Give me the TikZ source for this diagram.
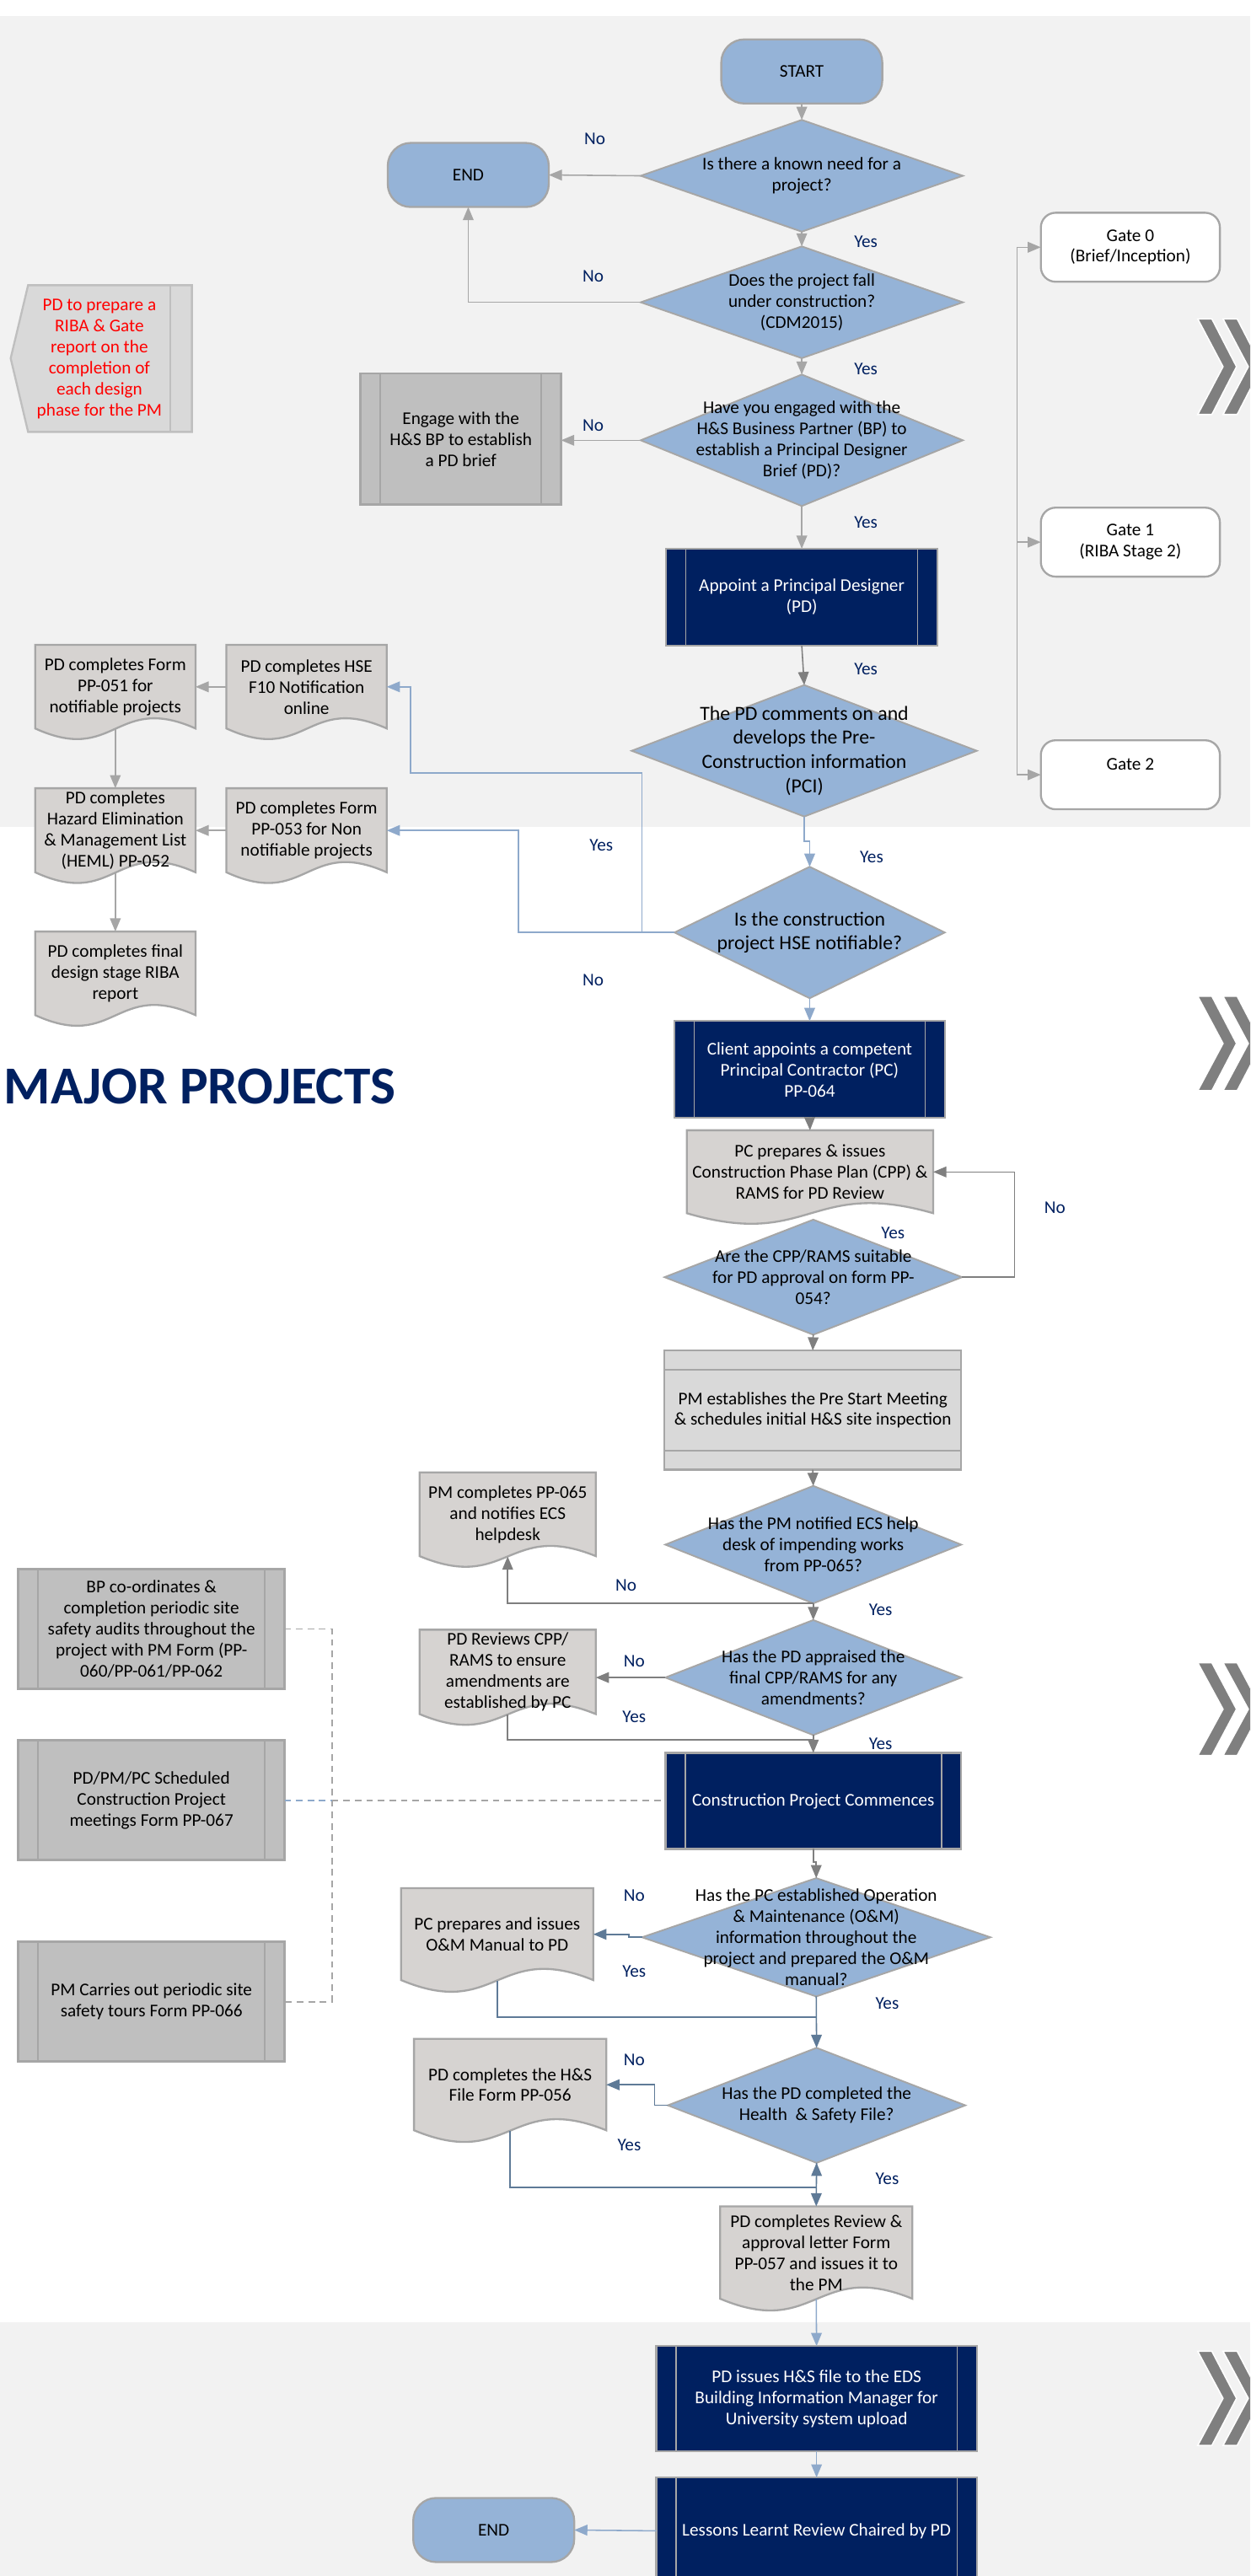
\documentclass[tikz,border=0pt]{standalone}
\usepackage{fontspec}
\setmainfont{Carlito}
\usetikzlibrary{arrows.meta,shapes.geometric}

\definecolor{bgg}{HTML}{F2F2F2}
\definecolor{dia}{HTML}{95B3D7}
\definecolor{bord}{HTML}{A6A6A6}
\definecolor{navy}{HTML}{002060}
\definecolor{docf}{HTML}{D6D3D1}
\definecolor{grayb}{HTML}{BFBFBF}
\definecolor{lgray}{HTML}{D9D9D9}
\definecolor{cgray}{HTML}{A6A6A6}
\definecolor{cdark}{HTML}{7F7F7F}
\definecolor{cblue}{HTML}{8EA9CB}
\definecolor{csteel}{HTML}{5E7A97}
\definecolor{chevc}{HTML}{7F7F7F}

\newcommand\bodyfont{\fontsize{10.9}{12.8}\selectfont}
\newcommand\bigfont{\fontsize{12.2}{14.7}\selectfont}

\tikzset{
  every node/.style={inner sep=0pt, outer sep=0pt},
  term/.style={draw=bord, line width=1.2pt, fill=dia, rounded corners=14pt,
    minimum width=98pt, minimum height=39pt, font=\bodyfont, text=black},
  decision/.style={shape=diamond, draw=bord, line width=1pt, fill=dia},
  dtext/.style={align=center, font=\bodyfont},
  navybox/.style={draw=bord, line width=1.2pt, fill=navy, text=white, align=center, font=\bodyfont,
    path picture={
      \draw[bord, line width=0.8pt] ([xshift=12pt]path picture bounding box.north west) -- ([xshift=12pt]path picture bounding box.south west);
      \draw[bord, line width=0.8pt] ([xshift=-12pt]path picture bounding box.north east) -- ([xshift=-12pt]path picture bounding box.south east);}},
  graybox/.style={draw=bord, line width=1.5pt, fill=grayb, text=black, align=center, font=\bodyfont,
    path picture={
      \draw[bord, line width=1pt] ([xshift=12pt]path picture bounding box.north west) -- ([xshift=12pt]path picture bounding box.south west);
      \draw[bord, line width=1pt] ([xshift=-12pt]path picture bounding box.north east) -- ([xshift=-12pt]path picture bounding box.south east);}},
  gatebox/.style={draw=bord, line width=1.2pt, fill=white, rounded corners=9pt,
    minimum width=109pt, minimum height=42pt, align=center, font=\bodyfont},
  docshape/.style={draw=bord, fill=docf, line width=1.2pt},
  doctext/.style={align=center, font=\bodyfont},
  lbl/.style={text=navy, font=\bodyfont},
  conn/.style={-{Triangle[length=8pt,width=6.5pt]}, line width=0.8pt},
  cg/.style={conn, draw=cgray},
  cd/.style={conn, draw=cdark},
  cb/.style={conn, draw=cblue},
  cs/.style={conn, draw=csteel},
  dsh/.style={draw=cgray, line width=0.9pt, dash pattern=on 4pt off 3pt},
}

\newcommand\docnode[6]{%
  \path[docshape] ({#2-#4/2},#3) -- ({#2+#4/2},#3) -- ({#2+#4/2},{#3+0.87*#5})
    .. controls (#2,{#3+0.5*#5}) and (#2,{#3+1.25*#5}) .. ({#2-#4/2},{#3+0.87*#5}) -- cycle;
  \node[doctext, minimum width=#4pt, minimum height=0.874*#5pt, anchor=north] (#1) at (#2,#3) {#6};
}
\newcommand\chevone[3]{%
  \path[fill=chevc, draw=white, line width=0.8pt] (#1,#2) -- ({#1+8.6},#2) -- ({#1+23.6},{(#2+#3)/2})
    -- ({#1+8.6},#3) -- (#1,#3) -- ({#1+15.4},{(#2+#3)/2}) -- cycle;
}
\newcommand\chevpair[2]{\chevone{729}{#1}{#2}\chevone{744.4}{#1}{#2}}

\begin{document}
\begin{tikzpicture}[x=1pt,y=-1pt]
\useasboundingbox (0,0) rectangle (761,1568);
\fill[white] (0,0) rectangle (761,1568);
\fill[bgg] (0,10) rectangle (761,503.5);
\fill[bgg] (0,1413.5) rectangle (761,1568);

% chevrons
\begin{scope}
\clip (0,0) rectangle (761,1568);
\chevpair{194.1}{252.3}
\chevpair{606.4}{663.9}
\chevpair{1012.1}{1068.6}
\chevpair{1431.2}{1488.5}
\end{scope}

% title
\node[anchor=base west, text=navy, font=\fontsize{32.5}{39}\selectfont\bfseries] (major) at (2.4,671.7) {MAJOR PROJECTS};

% red box
\path[draw=grayb, fill=lgray, line width=1.2pt] (17.1,173.6) -- (116.8,173.6) -- (116.8,262.9) -- (17.1,262.9) -- (6.5,218.1) -- cycle;
\draw[grayb, line width=1.2pt] (103.5,173.6) -- (103.5,262.9);
\node[font=\bodyfont, text=red, align=center] (riba) at (60.5,218.6) {PD to prepare a\\RIBA \& Gate\\report on the\\completion of\\each design\\phase for the PM};

% terminators
\node[term] (start) at (488,43.5) {START};
\node[term] (end1) at (285,106.5) {END};
\node[term] (end2) at (300.5,1540) {END};

% gates
\node[gatebox] (gate0) at (688,150.5) {Gate 0\\(Brief/Inception)};
\node[gatebox] (gate1) at (688,330) {Gate 1\\(RIBA Stage 2)};
\node[gatebox] (gate2) at (688,471.6) {Gate 2\\\mbox{}};

% documents
\docnode{hse}{186.6}{392.5}{97.6}{58.5}{PD completes HSE\\F10 Notification\\online}
\docnode{pp051}{70.2}{392.5}{97.6}{58.5}{PD completes Form\\PP-051 for\\notifiable projects}
\docnode{heml}{70.2}{479.8}{97.6}{58.8}{PD completes\\Hazard Elimination\\\& Management List\\(HEML) PP-052}
\docnode{pp053}{186.6}{479.8}{97.6}{58.8}{PD completes Form\\PP-053 for Non\\notifiable projects}
\docnode{final}{70.2}{567}{97.6}{58.5}{PD completes final\\design stage RIBA\\report}
\docnode{cpp}{493}{688}{150}{58}{PC prepares \& issues\\Construction Phase Plan (CPP) \&\\RAMS for PD Review}
\docnode{pm065}{309}{896.2}{107.3}{58.6}{PM completes PP-065\\and notifies ECS\\helpdesk}
\docnode{pr}{309}{992}{107.3}{59}{PD Reviews CPP/\\RAMS to ensure\\amendments are\\established by PC}
\docnode{om}{302.6}{1149.3}{117}{64.3}{PC prepares and issues\\O\&M Manual to PD}
\docnode{hs}{310.5}{1241}{117}{64}{PD completes the H\&S\\File Form PP-056}
\docnode{rev}{496.8}{1343}{117}{64.6}{PD completes Review \&\\approval letter Form\\PP-057 and issues it to\\the PM}

% diamonds
\node[decision, minimum width=196pt, minimum height=68pt] (d1) at (488,107) {};
\node[dtext] (d1t) at (d1) {Is there a known need for a\\project?};
\node[decision, minimum width=196pt, minimum height=68pt] (d2) at (488,184) {};
\node[dtext] (d2t) at (d2) {Does the project fall\\under construction?\\(CDM2015)};
\node[decision, minimum width=196pt, minimum height=80pt] (d3) at (488,268) {};
\node[dtext] (d3t) at (d3) {Have you engaged with the\\H\&S Business Partner (BP) to\\establish a Principal Designer\\Brief (PD)?};
\node[decision, minimum width=210pt, minimum height=80pt] (d4) at (489.5,457) {};
\node[dtext, font=\bigfont] (d4t) at (d4) {The PD comments on and\\develops the Pre-\\Construction information\\(PCI)};
\node[decision, minimum width=164.5pt, minimum height=80pt] (d5) at (492.8,567.6) {};
\node[dtext, font=\bigfont] (d5t) at (d5) {Is the construction\\project HSE notifiable?};
\node[decision, minimum width=181pt, minimum height=70pt] (d6) at (495,777.4) {};
\node[dtext] (d6t) at (d6) {Are the CPP/RAMS suitable\\for PD approval on form PP-\\054?};
\node[decision, minimum width=180pt, minimum height=71.5pt] (d7) at (495,940.2) {};
\node[dtext] (d7t) at (d7) {Has the PM notified ECS help\\desk of impending works\\from PP-065?};
\node[decision, minimum width=180pt, minimum height=70pt] (d8) at (495,1021.1) {};
\node[dtext] (d8t) at (d8) {Has the PD appraised the\\final CPP/RAMS for any\\amendments?};
\node[decision, minimum width=212pt, minimum height=72pt] (d9) at (496.8,1179.2) {};
\node[dtext] (d9t) at (d9) {Has the PC established Operation\\\& Maintenance (O\&M)\\information throughout the\\project and prepared the O\&M\\manual?};
\node[decision, minimum width=181pt, minimum height=70pt] (d10) at (497,1281.5) {};
\node[dtext] (d10t) at (d10) {Has the PD completed the\\Health\ \ \& Safety File?};

% process boxes
\node[navybox, minimum width=165pt, minimum height=59pt] (appoint) at (488,363.5) {Appoint a Principal Designer\\(PD)};
\node[navybox, minimum width=164.5pt, minimum height=59pt] (client) at (492.8,651) {Client appoints a competent\\Principal Contractor (PC)\\PP-064};
\node[navybox, minimum width=180pt, minimum height=58.4pt] (cpc) at (495,1096.2) {Construction Project Commences};
\node[navybox, minimum width=195pt, minimum height=64pt] (issue) at (497,1460) {PD issues H\&S file to the EDS\\Building Information Manager for\\University system upload};
\node[navybox, minimum width=195pt, minimum height=65pt] (lessons) at (497,1540.5) {Lessons Learnt Review Chaired by PD};

\node[graybox, minimum width=122pt, minimum height=80pt] (engage) at (280.5,267.3) {Engage with the\\H\&S BP to establish\\a PD brief};
\node[graybox, minimum width=162pt, minimum height=72.7pt] (bp) at (92.2,991.5) {BP co-ordinates \&\\completion periodic site\\safety audits throughout the\\project with PM Form (PP-\\060/PP-061/PP-062};
\node[graybox, minimum width=162pt, minimum height=72.7pt] (meet) at (92.2,1095.8) {PD/PM/PC Scheduled\\Construction Project\\meetings Form PP-067};
\node[graybox, minimum width=162pt, minimum height=72.7pt] (tours) at (92.2,1218.4) {PM Carries out periodic site\\safety tours Form PP-066};

\node[draw=bord, line width=1.2pt, fill=lgray, minimum width=180.6pt, minimum height=72.6pt, align=center, font=\bodyfont,
  path picture={
    \draw[bord, line width=1.2pt] ([yshift=-11.7pt]path picture bounding box.north west) -- ([yshift=-11.7pt]path picture bounding box.north east);
    \draw[bord, line width=1.2pt] ([yshift=11.7pt]path picture bounding box.south west) -- ([yshift=11.7pt]path picture bounding box.south east);}]
  (pmest) at (494.7,858.3) {PM establishes the Pre Start Meeting\\\& schedules initial H\&S site inspection};

% connectors: top section
\draw[cg] (start.south) -- (d1.north);
\draw[cg] (d1.west) -- (end1.east);
\draw[cg] (d1.south) -- (d2.north);
\draw[cg] (d2.west) -| (end1.south);
\draw[cg] (d2.south) -- (d3.north);
\draw[cg] (d3.west) -- (engage.east |- d3.west);
\draw[cg] (d3.south) -- (appoint.north);
\draw[cd] (appoint.south) -- (d4.north);
\draw[cb] (d4.south) -- ++(0,15) -| (d5.north);
\draw[cb] (d5.west) -- (315.5,567.6) |- (pp053.east);
\draw[cb] (d5.west) -- (390.7,567.6) -- (390.7,470.5) -- (250,470.5) |- (hse.east);
\draw[cg] (hse.west) -- (pp051.east);
\draw[cg] (pp053.west) -- (heml.east);
\draw[cg] (pp051.south) -- (heml.north);
\draw[cg] (heml.south) -- (final.north);

% gates
\coordinate (gtop) at (619,150.5);
\coordinate (gbot) at (619,471.6);
\draw[cgray, line width=0.8pt] (gtop) -- (gbot);
\draw[cg] (gtop) -- (gate0.west);
\draw[cg] (gtop |- gate1.west) -- (gate1.west);
\draw[cg] (gbot) -- (gate2.west);

% middle section
\draw[cb] (d5.south) -- (client.north);
\draw[cd] (client.south) -- (cpp.north);
\draw[cd] (d6.east) -- (617.4,777.4) |- (cpp.east);
\draw[cd] (d6.south) -- (pmest.north);
\draw[cd] (pmest.south) -- (d7.north);
\draw[cd] (d7.south) -- (d8.north);
\draw[cd] (d7.south) -| (pm065.south);
\draw[cd] (d8.west) -- (pr.east |- d8.west);
\draw[cd, -] (pr.south) |- (495,1059);
\draw[cd] (d8.south) -- (cpc.north);
\draw[cd] (cpc.south) -- ++(0,8) -| (d9.north);

% dashed links
\coordinate (dj) at (202,1095.8);
\draw[dsh] (bp.east) -- (202,991.5) -- (202,1218.4) -- (tours.east);
\draw[dsh, draw=cblue] (meet.east) -- (dj);
\draw[dsh] (dj) -- (cpc.west |- dj);

% lower section
\draw[cs] (d9.west) -- ++(-8,0) |- (om.east);
\draw[cs, -] (om.south) |- (496.8,1227.9);
\draw[cs] (d9.south) -- (d10.north);
\draw[cs] (d10.west) -- ++(-8,0) |- (hs.east);
\draw[cs] (hs.south) |- (497,1331.4) -- (d10.south);
\draw[cs] (d10.south) -- (rev.north);
\draw[cb] (rev.south) -- (issue.north);
\draw[cb] (issue.south) -- (lessons.north);
\draw[cb] (lessons.west) -- (end2.east);

% labels
\node[lbl] (l1) at (362,84.5) {No};
\node[lbl] (l2) at (527,147) {Yes};
\node[lbl] (l3) at (361,168.3) {No};
\node[lbl] (l4) at (527,224.5) {Yes};
\node[lbl] (l5) at (361,259) {No};
\node[lbl] (l6) at (527,318) {Yes};
\node[lbl] (l7) at (527,407.5) {Yes};
\node[lbl] (l8) at (530.5,521.5) {Yes};
\node[lbl] (l9) at (366,514.7) {Yes};
\node[lbl] (l10) at (361,596.6) {No};
\node[lbl] (l11) at (543.5,750.5) {Yes};
\node[lbl] (l12) at (642,735) {No};
\node[lbl] (l13) at (381,965) {No};
\node[lbl] (l14) at (536,980) {Yes};
\node[lbl] (l15) at (386,1011.4) {No};
\node[lbl] (l16) at (386,1045) {Yes};
\node[lbl] (l17) at (536,1061.7) {Yes};
\node[lbl] (l18) at (386,1153.8) {No};
\node[lbl] (l19) at (386,1200) {Yes};
\node[lbl] (l20) at (540,1219.4) {Yes};
\node[lbl] (l21) at (386,1254) {No};
\node[lbl] (l22) at (383,1305.6) {Yes};
\node[lbl] (l23) at (540,1326) {Yes};
\end{tikzpicture}
\end{document}
